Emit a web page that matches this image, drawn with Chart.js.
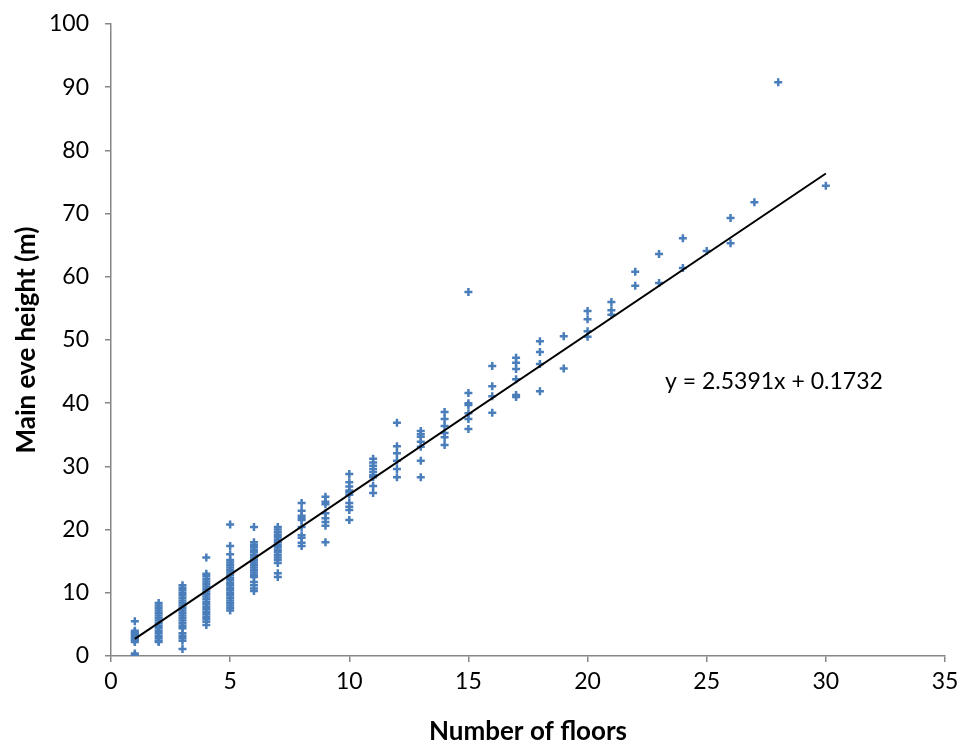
<!DOCTYPE html>
<html>
<head>
<meta charset="utf-8">
<script src="https://cdn.jsdelivr.net/npm/chart.js@4"></script>
<style>
  html, body { margin: 0; padding: 0; background: #fff; }
  #wrap { width: 963px; height: 745px; }
</style>
</head>
<body>
<div id="wrap"><canvas id="floorsChart" width="963" height="745"></canvas></div>
<script>
// number of floors (x) and the eve heights measured for that floor count (y)
const floors = [1, 2, 3, 4, 5, 6, 7, 8, 9, 10, 11, 12, 13, 14, 15,
                16, 17, 18, 19, 20, 21, 22, 23, 24, 25, 26, 27, 28, 30];
const heightsByFloor = [
  [5.5, 4.0, 3.8, 3.6, 3.4, 3.2, 3.0, 2.8, 2.6, 2.4, 2.2, 0.4, 0.2],
  [8.4, 8.0, 7.6, 7.2, 6.8, 6.4, 6.0, 5.6, 5.2, 4.8, 4.4, 4.0, 3.6, 3.2, 2.8, 2.4, 2.2],
  [11.2, 10.8, 10.4, 10.0, 9.6, 9.2, 8.8, 8.4, 8.0, 7.6, 7.2, 6.8, 6.4, 6.0, 5.6, 5.2, 4.8, 4.4, 3.6, 3.2, 2.8, 2.4, 1.1],
  [15.6, 13.0, 12.6, 12.2, 11.8, 11.4, 11.0, 10.6, 10.2, 9.8, 9.4, 9.0, 8.6, 8.2, 7.8, 7.4, 7.0, 6.6, 6.2, 5.8, 5.4, 4.9],
  [20.8, 17.4, 16.1, 15.2, 14.8, 14.4, 14.0, 13.6, 13.2, 12.8, 12.4, 12.0, 11.6, 11.2, 10.8, 10.4, 10.0, 9.6, 9.2, 8.8, 8.4, 8.0, 7.6, 7.2],
  [20.4, 18.0, 17.6, 17.2, 16.8, 16.4, 16.0, 15.6, 15.2, 14.8, 14.4, 14.0, 13.6, 13.2, 12.8, 12.5, 11.7, 11.2, 10.7, 10.3],
  [20.4, 20.0, 19.6, 19.2, 18.8, 18.4, 18.0, 17.6, 17.2, 16.8, 16.4, 16.0, 15.6, 15.2, 14.7, 13.1, 12.5],
  [24.2, 23.0, 22.2, 21.8, 21.5, 20.4, 19.1, 18.7, 17.9, 17.4],
  [25.2, 24.4, 24.0, 22.6, 21.8, 21.2, 20.6, 18.0],
  [28.8, 27.5, 26.8, 26.2, 25.9, 25.5, 24.2, 23.6, 23.1, 21.5],
  [31.2, 30.6, 30.1, 29.6, 29.1, 28.6, 28.3, 26.9, 25.8],
  [36.9, 33.2, 32.1, 30.9, 29.6, 28.3],
  [35.6, 35.1, 34.7, 33.9, 33.1, 30.9, 28.3],
  [38.6, 37.5, 36.4, 35.3, 34.6, 33.4],
  [57.6, 41.6, 40.0, 39.7, 38.4, 37.5, 35.9],
  [45.9, 42.7, 41.1, 38.5],
  [47.2, 46.4, 45.4, 43.8, 41.3, 41.0],
  [49.8, 48.1, 46.2, 41.9],
  [50.6, 45.5],
  [54.6, 53.3, 51.4, 50.5],
  [56.0, 54.7, 54.0],
  [60.8, 58.6],
  [63.6, 59.0],
  [66.1, 61.4],
  [64.1],
  [69.3, 65.3],
  [71.8],
  [90.8],
  [74.4]
];

// linear trend shown on the chart
const trendSlope = 2.5391;
const trendIntercept = 0.1732;
const trendFrom = 1;
const trendTo = 30;
const trendLabel = 'y = 2.5391x + 0.1732';

const xTicks = [0, 5, 10, 15, 20, 25, 30, 35];
const yTicks = [0, 10, 20, 30, 40, 50, 60, 70, 80, 90, 100];

const points = [];
floors.forEach((f, i) => {
  heightsByFloor[i].forEach(h => points.push({ x: f, y: h }));
});

const trendPoints = [trendFrom, trendTo].map(x => ({ x, y: trendSlope * x + trendIntercept }));

const equationLabel = {
  id: 'equationLabel',
  afterDatasetsDraw(chart) {
    const { ctx, scales } = chart;
    ctx.save();
    ctx.font = '23px Lato, "Open Sans", sans-serif';
    ctx.fillStyle = '#000';
    ctx.textBaseline = 'middle';
    ctx.fillText(trendLabel, scales.x.getPixelForValue(23.25), scales.y.getPixelForValue(43.4));
    ctx.restore();
  }
};

const axisColor = '#868686';
const tickFont = { family: 'Lato, "Open Sans", sans-serif', size: 23 };
const titleFont = { family: 'Lato, "Open Sans", sans-serif', size: 26, weight: 'bold', lineHeight: 1 };

new Chart(document.getElementById('floorsChart').getContext('2d'), {
  type: 'scatter',
  data: {
    datasets: [
      {
        label: 'Main eve height',
        data: points,
        pointStyle: 'cross',
        pointRadius: 4,
        pointBorderWidth: 2.5,
        borderColor: '#4a7ebb',
        backgroundColor: '#4a7ebb',
        order: 2
      },
      {
        type: 'line',
        label: 'Linear trend',
        data: trendPoints,
        borderColor: '#000',
        borderWidth: 2,
        pointRadius: 0,
        fill: false,
        order: 1
      }
    ]
  },
  options: {
    responsive: false,
    animation: false,
    layout: { padding: { left: 0, right: 18, top: 24, bottom: 0 } },
    plugins: {
      legend: { display: false },
      tooltip: { enabled: false }
    },
    scales: {
      x: {
        type: 'linear',
        min: 0,
        max: 35,
        afterBuildTicks: scale => { scale.ticks = xTicks.map(v => ({ value: v })); },
        afterFit: scale => { scale.height = 89; scale.paddingRight = 0; },
        border: { display: true, color: axisColor, width: 1.5 },
        grid: { drawOnChartArea: false, drawTicks: true, tickLength: 6, color: axisColor, lineWidth: 1.5 },
        ticks: { color: '#000', font: tickFont, padding: 6, maxRotation: 0 },
        title: { display: true, text: 'Number of floors', color: '#000', font: titleFont, padding: { top: 0, bottom: 0 } }
      },
      y: {
        type: 'linear',
        min: 0,
        max: 100,
        afterBuildTicks: scale => { scale.ticks = yTicks.map(v => ({ value: v })); },
        afterFit: scale => { scale.width = 111; scale.paddingTop = 0; scale.paddingBottom = 0; },
        border: { display: true, color: axisColor, width: 1.5 },
        grid: { drawOnChartArea: false, drawTicks: true, tickLength: 6, color: axisColor, lineWidth: 1.5 },
        ticks: { color: '#000', font: tickFont, padding: 16 },
        title: { display: true, text: 'Main eve height (m)', color: '#000', font: titleFont, padding: { top: 14, bottom: 4 } }
      }
    }
  },
  plugins: [equationLabel]
});
</script>
</body>
</html>
